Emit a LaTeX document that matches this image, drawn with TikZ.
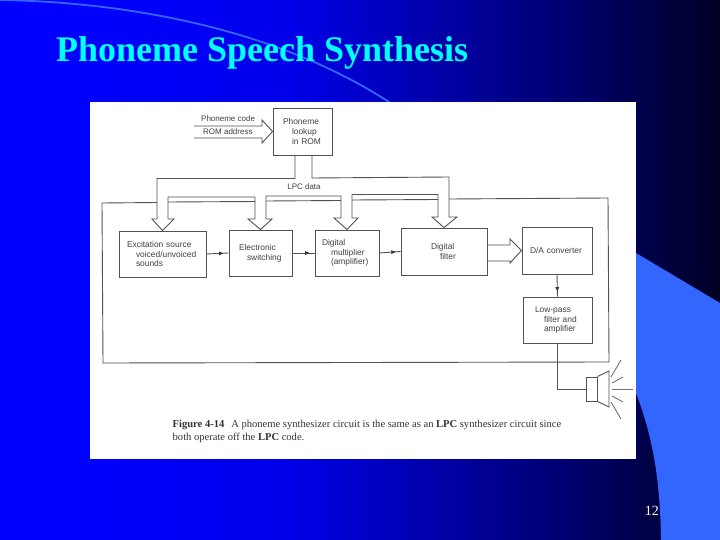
\documentclass[tikz,border=0pt]{standalone}
\usepackage{fontspec}
\setmainfont{Liberation Serif}
\newfontfamily\diagfont{Liberation Sans}
\usetikzlibrary{calc,decorations.markings,arrows.meta}
\pgfdeclarehorizontalshading{slidebg}{100bp}{rgb(0bp)=(0,0,1);rgb(30bp)=(0,0,1);rgb(45bp)=(0,0,0.92);rgb(65bp)=(0,0,0.42);rgb(80bp)=(0,0,0);rgb(100bp)=(0,0,0)}
\definecolor{accent}{RGB}{51,102,255}
\definecolor{ink}{gray}{0.32}
\tikzset{
  wire/.style={draw=ink,line width=0.9pt,line join=miter},
  blockbox/.style={draw=ink,line width=0.9pt,fill=white,inner xsep=0pt,inner ysep=0pt,align=left,
    text=black!75,font=\diagfont\fontsize{8.4}{9.7}\selectfont},
  midarrow/.style={wire,postaction={decorate},decoration={markings,mark=at position #1 with {\arrow[black!80]{Latex[length=5pt,width=4pt]}}}},
  dlabel/.style={text=black!75,font=\diagfont\fontsize{8}{9.7}\selectfont,inner sep=0pt},
}
\begin{document}
\begin{tikzpicture}[x=1pt,y=-1pt]
\useasboundingbox (0,0) rectangle (720,540);
\shade[shading=slidebg] (0,0) rectangle (720,540);
% decorative shapes
\draw[accent,line width=1.8pt] (0,0) .. controls (130,2) and (280,30) .. (392,104);
\fill[accent] (636,253) -- (720,303) -- (720,540) -- (661,540) .. controls (660,470) and (650,430) .. (636,393) -- cycle;
% panel
\fill[white] (90,102) rectangle (636,459);
% title and page number
\node[anchor=base west,inner sep=0pt,text={rgb,255:red,0;green,255;blue,255},font=\bfseries\fontsize{36}{40}\selectfont] (title) at (56,62) {Phoneme Speech Synthesis};
\node[anchor=base east,inner sep=0pt,text=white,font=\fontsize{14}{16}\selectfont] (page) at (659,515) {12};
% blocks
\node[blockbox,minimum width=59pt,text width=59pt,minimum height=47pt] (rom) at (302.5,131.5) {\hspace*{10pt}Phoneme\\\hspace*{19pt}lookup\\\hspace*{19pt}in ROM};
\node[blockbox,minimum width=87pt,text width=87pt,minimum height=46pt] (exc) at (162.5,254) {\hspace*{8pt}Excitation source\\\hspace*{17pt}voiced/unvoiced\\\hspace*{17pt}sounds};
\node[blockbox,minimum width=63pt,text width=63pt,minimum height=46pt] (elec) at (260.5,253) {\hspace*{10pt}Electronic\\\hspace*{18pt}switching};
\node[blockbox,minimum width=64pt,text width=64pt,minimum height=46pt] (mult) at (347,253) {\hspace*{7pt}Digital\\\hspace*{16pt}multiplier\\\hspace*{16pt}(amplifier)};
\node[blockbox,minimum width=86pt,text width=86pt,minimum height=47pt] (filter) at (444,251.5) {\hspace*{30pt}Digital\\\hspace*{39pt}filter};
\node[blockbox,minimum width=70pt,text width=70pt,minimum height=47pt] (da) at (557,250.5) {\hspace*{8pt}D/A converter};
\node[blockbox,minimum width=69pt,text width=69pt,minimum height=46pt] (lpf) at (557.5,320) {\hspace*{12pt}Low-pass\\\hspace*{21pt}filter and\\\hspace*{21pt}amplifier};
\node[draw=ink,line width=0.9pt,fill=white,minimum width=11pt,minimum height=24pt,inner sep=0pt] (spk) at (591.5,389) {};
% labels
\node[dlabel,anchor=west] (pcode) at (201,119) {Phoneme code};
\node[dlabel,anchor=west] (raddr) at (203,132) {ROM address};
\node[dlabel] (lpc) at (304,187) {LPC data};
% input arrow
\coordinate (inA) at (194,126);
\coordinate (inB) at (194,138);
\draw[wire] (inA) -- (262,126) -- (262,120) -- (rom.west) -- (262,143) -- (262,138) -- (inB);
% LPC data bus
\draw[wire] ($(rom.south)+(-7.5,0)$) -- (295,178.5) -- (157,178.5) -- (157,219) -- (152,219) -- (exc.north) -- (174,219) -- (168,219)
  -- (168,197) -- (255,197) -- (255,219) -- (248,219) -- (elec.north) -- (272,219) -- (266,219)
  -- (266,196) -- (341,196) -- (341,218) -- (334,218) -- (mult.north) -- (358,218) -- (352,218)
  -- (352,194.5) -- (438,194.5) -- (438,217) -- (432,217) -- (filter.north) -- (457,217) -- (449,217)
  -- (449,177) -- (312,178) -- ($(rom.south)+(9.5,0)$);
% outer loop
\coordinate (loopA) at (157,202.5);
\coordinate (loopB) at (449,199);
\draw[wire] (loopA) -- (102,203) -- (103,363) -- (609,362) -- (608,198) -- (loopB);
\draw[wire] (168,202) -- (255,201.5);
\draw[wire] (266,201) -- (341,200.5);
\draw[wire] (352,200) -- (438,199.5);
% signal path
\draw[midarrow=0.8] (exc.east) -- (elec.west);
\draw[midarrow=0.8] (elec.east) -- (mult.west);
\draw[midarrow=0.8] (mult.east) -- (filter.west);
\draw[wire] ($(filter.east)+(0,-6.5)$) -- (510,245) -- (510,239) -- (da.west) -- (510,263) -- (510,261) -- ($(filter.east)+(0,9.5)$);
\draw[midarrow=0.8] (da.south) -- (lpf.north);
\draw[wire] (lpf.south) |- (spk.west);
% loudspeaker
\draw[wire] (spk.north east) -- (609,371) -- (609,407) -- (spk.south east);
\draw[wire,draw=black!55] (611,377) -- (621,360);
\draw[wire,draw=black!55] (612,383) -- (623,377);
\draw[wire,draw=black!55] (612,389) -- (633,389);
\draw[wire,draw=black!55] (612,396) -- (623,402);
\draw[wire,draw=black!55] (611,402) -- (621,419);
% caption
\node[anchor=base west,inner sep=0pt,align=left,text=black!80,font=\fontsize{10.55}{13}\selectfont] (cap) at (172.5,440) {\textbf{Figure 4-14}\hspace{7pt}A phoneme synthesizer circuit is the same as an \textbf{LPC} synthesizer circuit since\\both operate off the \textbf{LPC} code.};
\end{tikzpicture}
\end{document}
